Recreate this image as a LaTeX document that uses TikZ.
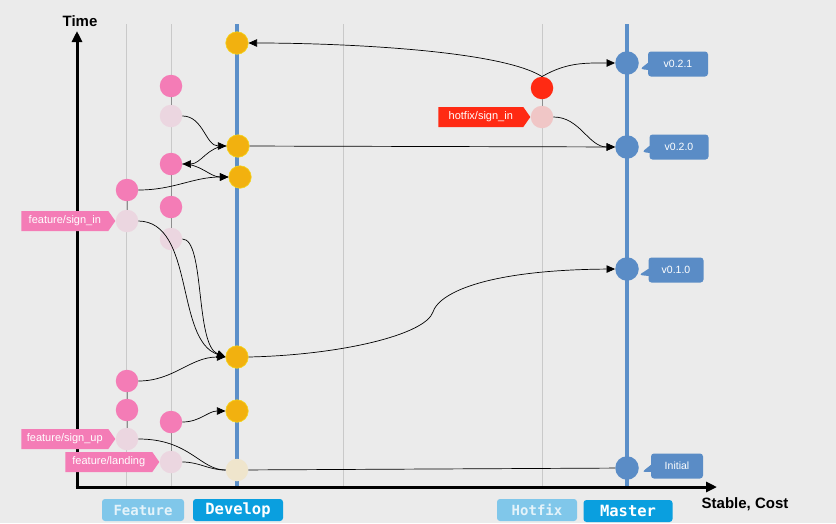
\documentclass[tikz,border=0pt]{standalone}
\usepackage{fontspec}
\setmainfont{Liberation Sans}
\setmonofont{DejaVu Sans Mono}
\usetikzlibrary{arrows.meta, positioning, shapes.symbols, shapes.callouts}
\definecolor{bgc}{HTML}{EBEBEB}
\definecolor{guidegray}{HTML}{C9C9C9}
\definecolor{stemgray}{HTML}{8E8E8E}
\definecolor{trunkblue}{HTML}{5B8FC9}
\definecolor{devorange}{HTML}{F2B10F}
\definecolor{devring}{HTML}{F4D41C}
\definecolor{devpale}{HTML}{EFE5CC}
\definecolor{featpink}{HTML}{F47CB6}
\definecolor{featpale}{HTML}{EBD6E0}
\definecolor{hotred}{HTML}{FF2A13}
\definecolor{hotpale}{HTML}{F0C6C6}
\definecolor{masterblue}{HTML}{5A8CC6}
\definecolor{lanelight}{HTML}{80C7EA}
\definecolor{lanelighttext}{HTML}{E4F3FA}
\definecolor{lanestrong}{HTML}{0A9FDF}
\tikzset{
  guide/.style={guidegray, line width=0.8pt},
  trunk/.style={trunkblue, line width=3.3pt},
  axis/.style={line width=3pt, -{Triangle[length=11pt,width=10pt]}},
  axislabel/.style={font=\bfseries\fontsize{15}{17}\selectfont},
  commit/.style={circle, minimum size=22.5pt, inner sep=0pt},
  devc/.style={commit, fill=devorange, draw=devring, line width=0.6pt},
  devp/.style={commit, fill=devpale},
  featc/.style={commit, fill=featpink},
  featp/.style={commit, fill=featpale},
  hotc/.style={commit, fill=hotred},
  hotp/.style={commit, fill=hotpale},
  masc/.style={commit, fill=masterblue, minimum size=23.5pt},
  stem/.style={stemgray, line width=0.8pt},
  arrow/.style={line width=0.7pt, -{Triangle[length=8.5pt,width=7.5pt]}},
  link/.style={line width=0.7pt},
  btag/.style={signal, signal to=east, signal pointer angle=110, text=white,
    font=\fontsize{11}{13}\selectfont, minimum height=20pt, minimum width=94pt,
    inner xsep=4pt, inner ysep=0pt},
  vtag/.style={rectangle callout, fill=masterblue, text=white, rounded corners=3pt,
    font=\fontsize{10.5}{12}\selectfont, minimum height=25pt, inner sep=0pt},
  lane/.style={rounded corners=3pt, minimum height=22pt, inner sep=0pt,
    font=\ttfamily\bfseries\fontsize{14}{16}\selectfont},
}
\begin{document}
\begin{tikzpicture}[x=1pt, y=-1pt]
  \fill[bgc] (0,0) rectangle (836,523);
  \useasboundingbox (0,0) rectangle (836,523);

  % lanes
  \foreach \x in {126,171,343,542} {
    \draw[guide] (\x,24) -- (\x,487);
  }
  \draw[trunk] (237,24) -- (237,487);
  \draw[trunk] (627,24) -- (627,487);

  % axes
  \coordinate (origin) at (77,487);
  \draw[axis] (77,488.5) -- (77,31);
  \draw[axis] (75.5,487) -- (717,487);
  \node[axislabel] (time) at (80,21) {Time};
  \node[axislabel] (cost) at (745,504) {Stable, Cost};

  % develop commits
  \node[devc] (d1) at (237,43) {};
  \node[devc] (d2) at (238,146) {};
  \node[devc] (d3) at (240,177) {};
  \node[devc] (d4) at (237,357) {};
  \node[devc] (d5) at (237,411) {};
  \node[devp] (d0) at (237,470) {};

  % feature commits
  \node[featc] (fa1) at (127,190) {};
  \node[featp] (fa2) at (127,221) {};
  \node[featc] (fa3) at (127,381) {};
  \node[featc] (fa4) at (127,410) {};
  \node[featp] (fa5) at (127,439) {};
  \node[featc] (fb1) at (171,86) {};
  \node[featp] (fb2) at (171,116) {};
  \node[featc] (fb3) at (171,164) {};
  \node[featc] (fb4) at (171,207) {};
  \node[featp] (fb5) at (171,239) {};
  \node[featc] (fb6) at (171,422) {};
  \node[featp] (fb7) at (171,462) {};

  % hotfix and master commits
  \node[hotc] (h1) at (542,88) {};
  \node[hotp] (h2) at (542,117) {};
  \node[masc] (m1) at (627,63) {};
  \node[masc] (m2) at (627,147) {};
  \node[masc] (m3) at (627,269) {};
  \node[masc] (m4) at (627,468) {};

  % branch stems
  \draw[stem] (fb1) -- (fb2);
  \draw[stem] (fb3) -- (fb4) -- (fb5);
  \draw[stem] (fa1) -- (fa2);
  \draw[stem] (fa3) -- (fa4) -- (fa5);
  \draw[stem] (fb6) -- (fb7);
  \draw[stem] (h1) -- (h2);

  % merges
  \draw[arrow] (h1.north) .. controls (500,50) and (340,43) .. (d1.east);
  \draw[arrow] (h1.north) to[out=30, in=180] (m1.west);
  \draw[arrow] (h2.east) to[out=0, in=180] (m2.west);
  \draw[arrow] (d2) -- (m2);
  \draw[arrow] (fb2.east) to[out=0, in=180] (d2.west);
  \draw[arrow] (d2.west) to[out=180, in=0] (fb3.east);
  \draw[arrow] (fb3.east) to[out=0, in=180] (d3.west);
  \draw[arrow] (fa1.east) to[out=0, in=180] (d3.west);
  \draw[arrow] (fa2.east) .. controls (195,222) and (175,340) .. (d4.west);
  \draw[arrow] (fb5.east) .. controls (205,239) and (195,345) .. (d4.west);
  \draw[arrow] (fa3.east) to[out=0, in=180] (d4.west);
  \draw[arrow] (d4.east) .. controls (340,355) and (425,335) .. (433,312)
    .. controls (438,295) and (480,270) .. (m3.west);
  \draw[arrow] (fb6.east) to[out=0, in=180] (d5.west);
  \draw[link] (fa5.east) .. controls (190,439) and (200,470) .. (d0.west);
  \draw[link] (fb7.east) to[out=0, in=180] (d0.west);
  \draw[link] (d0) -- (m4);

  % branch tags
  \node[btag, fill=featpink, left=0pt of fa2] (tsignin) {feature/sign\_in};
  \node[btag, fill=featpink, left=0pt of fa5] (tsignup) {feature/sign\_up};
  \node[btag, fill=featpink, left=0pt of fb7] (tlanding) {feature/landing};
  \node[btag, fill=hotred, minimum width=92pt, left=0pt of h2] (thotfix) {hotfix/sign\_in};

  % version tags
  \node[vtag, minimum width=60pt, callout absolute pointer={(640,69)}] (v021) at (678,64) {v0.2.1};
  \node[vtag, minimum width=59pt, callout absolute pointer={(642,152)}] (v020) at (679,147) {v0.2.0};
  \node[vtag, minimum width=55pt, callout absolute pointer={(639,275)}] (v010) at (676,270) {v0.1.0};
  \node[vtag, minimum width=52pt, callout absolute pointer={(642,472)}] (vinit) at (677,466) {Initial};

  % lane names
  \node[lane, fill=lanelight, text=lanelighttext, minimum width=82pt] (lfeature) at (143,510) {Feature};
  \node[lane, fill=lanestrong, text=white, minimum width=90pt,
    font=\ttfamily\bfseries\fontsize{15.5}{17}\selectfont] (ldevelop) at (238,510) {Develop};
  \node[lane, fill=lanelight, text=lanelighttext, minimum width=80pt] (lhotfix) at (537,510) {Hotfix};
  \node[lane, fill=lanestrong, text=white, minimum width=89pt,
    font=\ttfamily\bfseries\fontsize{15.5}{17}\selectfont] (lmaster) at (628,511) {Master};
\end{tikzpicture}
\end{document}
